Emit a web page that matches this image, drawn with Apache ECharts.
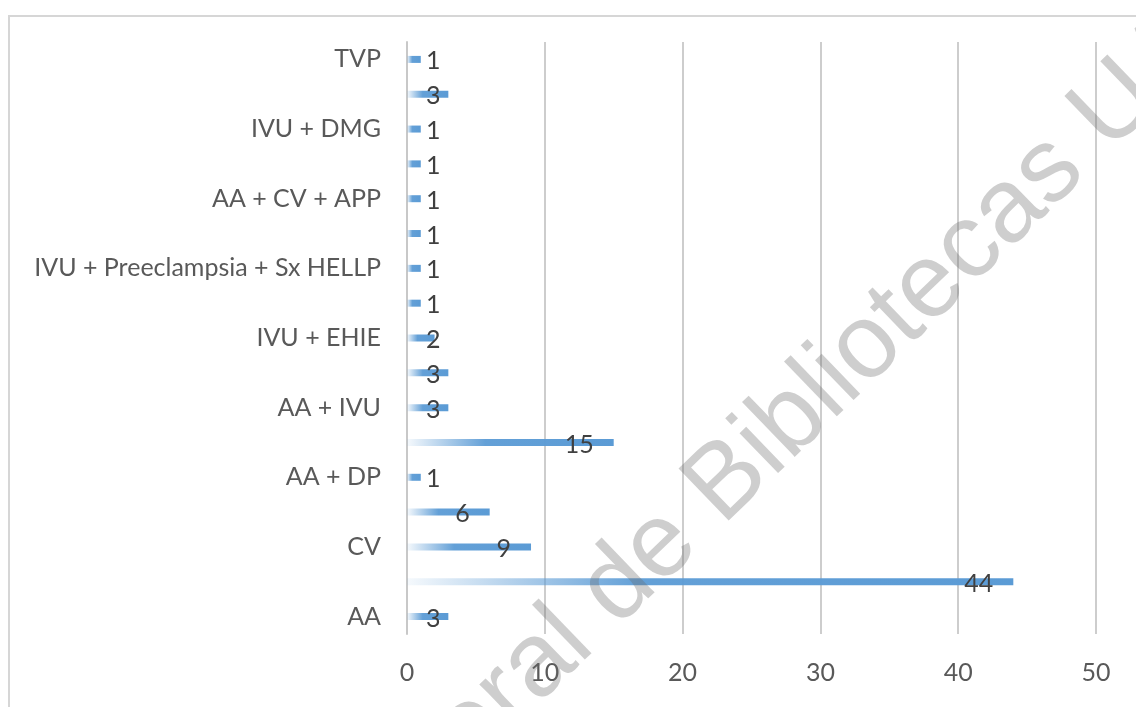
<!DOCTYPE html>
<html>
<head>
<meta charset="utf-8">
<script src="https://cdn.jsdelivr.net/npm/echarts@6/dist/echarts.min.js"></script>
<style>
  html, body { margin: 0; padding: 0; background: #ffffff; }
  #chart { width: 1136px; height: 707px; }
</style>
</head>
<body>
<div id="chart"></div>
<script>
// Diagnoses, bottom to top (every other name is shown on the axis)
const categories = [
  'AA', 'IVU', 'CV', 'AA + CV', 'AA + DP', 'DP', 'AA + IVU', 'CV + IVU',
  'IVU + EHIE', 'AA + EHIE', 'IVU + Preeclampsia + Sx HELLP', 'Preeclampsia',
  'AA + CV + APP', 'APP', 'IVU + DMG', 'DMG', 'TVP'
];
const counts = [3, 44, 9, 6, 1, 15, 3, 3, 2, 1, 1, 1, 1, 1, 1, 3, 1];
const xTicks = [0, 10, 20, 30, 40, 50];
const watermarkLead = 'Dirección General de';
const watermarkTail = 'Bibliotecas UAQ';

const chart = echarts.init(document.getElementById('chart'));

const barFill = new echarts.graphic.LinearGradient(0, 0, 1, 0, [
  { offset: 0, color: 'rgba(91,155,213,0.06)' },
  { offset: 0.38, color: 'rgba(91,155,213,0.95)' },
  { offset: 1, color: '#5b9bd5' }
]);

// Value labels sit just inside the bar end; short bars keep the label
// at a fixed gap from the axis instead.
const seriesData = counts.map(v => ({
  value: v,
  label: v >= 4
    ? { position: 'insideRight', distance: 20 }
    : { position: 'insideLeft', distance: 19 }
}));

// Watermark placement
const wmAngle = 44 * Math.PI / 180;
const wmSize = 105;
const wmAnchor = [666, 468];
const wmSpace = 0.278 * wmSize;
const wmLeadAnchor = [wmAnchor[0] - wmSpace * Math.cos(wmAngle), wmAnchor[1] + wmSpace * Math.sin(wmAngle)];
const wmStyle = {
  fill: 'rgba(105,105,105,0.33)',
  font: wmSize + 'px "Liberation Sans", Arial, sans-serif',
  textVerticalAlign: 'alphabetic'
};

chart.setOption({
  backgroundColor: '#ffffff',
  animation: false,
  textStyle: { fontFamily: 'Lato, "Open Sans", sans-serif' },
  graphic: [
    {
      type: 'rect',
      shape: { x: 9, y: 16, width: 1140, height: 720 },
      style: { fill: 'none', stroke: '#d6d6d6', lineWidth: 2 },
      z: 0
    },
    {
      type: 'text',
      x: wmAnchor[0], y: wmAnchor[1],
      rotation: wmAngle,
      style: Object.assign({ text: watermarkTail, textAlign: 'left' }, wmStyle),
      z: 100
    },
    {
      type: 'text',
      x: wmLeadAnchor[0], y: wmLeadAnchor[1],
      rotation: wmAngle,
      style: Object.assign({ text: watermarkLead, textAlign: 'right' }, wmStyle),
      z: 100
    }
  ],
  grid: { left: 407, right: 40, top: 42, bottom: 73, containLabel: false },
  xAxis: {
    type: 'value',
    min: xTicks[0],
    max: xTicks[xTicks.length - 1],
    interval: 10,
    axisLine: { show: false },
    axisTick: { show: false },
    splitLine: { show: true, lineStyle: { color: '#bdbdbd', width: 1.5 } },
    axisLabel: { color: '#595959', fontSize: 25, margin: 26 }
  },
  yAxis: {
    type: 'category',
    data: categories,
    axisLine: { show: true, lineStyle: { color: '#c8c8c8', width: 2 } },
    axisTick: { show: false },
    axisLabel: { interval: 1, color: '#595959', fontSize: 25, margin: 26 }
  },
  series: [{
    type: 'bar',
    data: seriesData,
    barWidth: 7,
    itemStyle: { color: barFill },
    label: { show: true, color: '#404040', fontSize: 25, offset: [0, 2] }
  }]
});
</script>
</body>
</html>
